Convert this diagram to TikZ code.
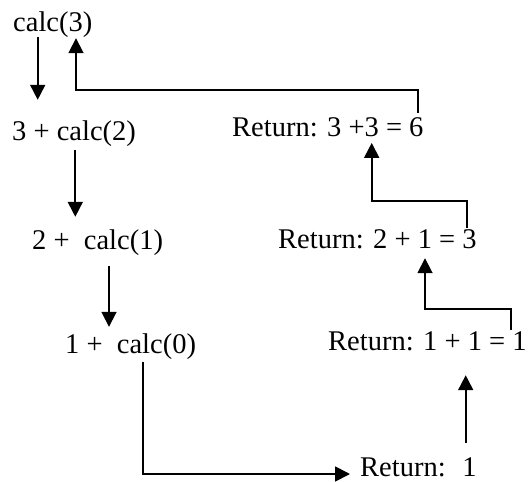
\documentclass[tikz,border=0pt]{standalone}
\usepackage{fontspec}
\setmainfont{Liberation Serif}
\usetikzlibrary{arrows.meta}

\begin{document}
\begin{tikzpicture}[x=1pt,y=-1pt,>={Triangle[width=15pt,length=15pt]},font=\fontsize{28.5}{34}\selectfont]

\tikzset{
expr/.style={
    anchor=base west,
    inner sep=0pt,
    text height=20pt,
    text depth=5pt
},
arrow/.style={->,line width=1.8pt}
}

\useasboundingbox (0,0) rectangle (529,481);

% calls going down
\node[expr] (c3) at (13,32) {calc(3)};
\node[expr] (c2) at (12,140) {3 + calc(2)};
\node[expr] (c1) at (32,249) {2 +~ calc(1)};
\node[expr] (c0) at (65,353) {1 +~ calc(0)};

% returns going up
\node[expr] (r6) at (232,136) {Return: 3 +3 = 6};
\node[expr] (r3) at (278,248) {Return: 2 + 1 = 3};
\node[expr] (r2) at (328,350) {Return: 1 + 1 = 1};
\node[expr,text depth=0pt] (r1) at (360,476) {Return:~ 1};

\draw[arrow] ([xshift=24.7pt]c3.south west) -- ([xshift=25.7pt,yshift=20pt]c2.north west);
\draw[arrow] ([xshift=63.3pt,yshift=-5pt]c2.south west) -- ([xshift=43.3pt,yshift=12pt]c1.north west);
\draw[arrow] ([xshift=77pt,yshift=-12pt]c1.south west) -- ([xshift=44pt,yshift=6pt]c0.north west);

\draw[arrow]
([xshift=78.3pt,yshift=-4pt]c0.south west)
|- ([xshift=-10pt,yshift=2pt]r1.base west);

\draw[arrow] ([xshift=105.7pt,yshift=13pt]r1.north west) -- ([xshift=137.7pt,yshift=-20pt]r2.south west);

\draw[arrow]
([xshift=183pt]r2.north west)
-- ++(0,-21)
-| ([xshift=147pt,yshift=-5pt]r3.south west);

\draw[arrow]
([xshift=189.3pt]r3.north west)
-- ++(0,-27)
-| ([xshift=139.7pt,yshift=-1.7pt]r6.south west);

\draw[arrow]
([xshift=185.7pt,yshift=3pt]r6.north west)
-- ++(0,-22.7)
-| ([xshift=63pt,yshift=-1pt]c3.south west);

\end{tikzpicture}
\end{document}
